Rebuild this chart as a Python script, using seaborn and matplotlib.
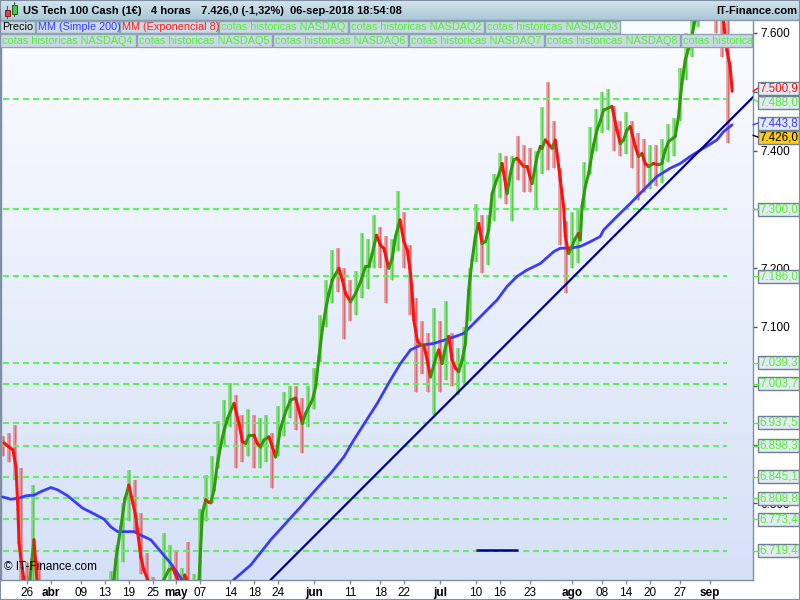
import numpy as np
import matplotlib
matplotlib.use("Agg")
import matplotlib.pyplot as plt
import seaborn as sns
from matplotlib.collections import LineCollection
from matplotlib.patches import Rectangle
from matplotlib.lines import Line2D
from matplotlib.colors import LinearSegmentedColormap

# ---------------- data (x = trading-day index, 0 = 26-mar-2018) ----------------
ema_day = [-3.78, -2.95, -2.28, -1.78, -1.45, -1.28, -0.78, -0.45, 0.0, 0.55,
           0.88, 1.22, 1.47, 1.72, 2.5, 4.0, 5.5, 7.0, 8.5, 10.0,
           11.5, 13.0, 14.0, 14.55, 14.88, 15.72, 16.38, 17.05, 17.72, 18.22,
           18.55, 19.05, 19.55, 20.22, 21.2, 22.2, 22.88, 23.72, 24.38, 24.72,
           25.22, 26.0, 26.38, 26.72, 27.6, 28.4, 28.77, 29.33, 29.88, 30.38,
           30.72, 31.27, 31.83, 32.67, 33.5, 34.6, 35.43, 36.0, 36.55, 37.1,
           37.93, 38.5, 39.05, 39.6, 40.43, 41.0, 41.55, 42.38, 43.22, 44.05,
           44.88, 45.72, 46.0, 46.55, 47.67, 48.22, 48.77, 49.33, 49.88, 50.43,
           51.0, 52.1, 52.67, 53.22, 54.05, 54.88, 55.72, 56.55, 57.1, 57.67,
           58.38, 59.05, 59.6, 60.43, 61.0, 61.55, 62.3, 62.93, 63.5, 64.05,
           64.33, 64.6, 65.17, 65.72, 66.27, 66.83, 67.38, 68.5, 68.77, 69.33,
           69.88, 70.43, 71.0, 71.55, 72.1, 72.67, 73.22, 73.77, 74.33, 74.88,
           75.43, 76.0, 76.55, 77.1, 77.67, 78.22, 79.05, 79.33, 80.17, 80.72,
           81.27, 81.83, 82.93, 83.5, 84.33, 85.17, 85.72, 86.0, 86.55, 87.67,
           88.22, 89.05, 89.6, 89.88, 90.43, 91.0, 91.55, 92.1, 92.38, 92.67,
           93.22, 93.77, 94.6, 95.17, 95.72, 96.27, 97.67, 98.5, 99.05, 99.6,
           100.17, 100.72, 101.55, 102.1, 102.67, 103.22, 103.77, 104.6, 105.43, 106.0,
           106.55, 107.1, 108.22, 108.77, 109.33, 109.88, 110.72, 111.55, 112.5, 113.5,
           114.5, 115.5, 116.27, 116.83, 117.38, 117.72]
ema_val = [6903, 6896, 6891, 6862, 6789, 6733, 6692, 6670, 6630, 6670,
           6704, 6738, 6704, 6670, 6580, 6400, 6480, 6560, 6500, 6580,
           6600, 6640, 6630, 6670, 6704, 6760, 6806, 6831, 6801, 6777,
           6750, 6709, 6687, 6670, 6640, 6630, 6670, 6687, 6690, 6682,
           6670, 6650, 6678, 6670, 6630, 6640, 6670, 6784, 6806, 6802,
           6801, 6823, 6868, 6913, 6944, 6970, 6936, 6905, 6902, 6916,
           6916, 6902, 6896, 6908, 6913, 6896, 6879, 6928, 6956, 6976,
           6979, 6947, 6936, 6953, 6976, 6998, 7049, 7095, 7129, 7157,
           7180, 7200, 7180, 7157, 7143, 7157, 7177, 7203, 7203, 7225,
           7256, 7239, 7234, 7200, 7217, 7254, 7282, 7246, 7231, 7191,
           7157, 7112, 7078, 7069, 7069, 7044, 7015, 7055, 7061, 7038,
           7066, 7084, 7044, 7030, 7024, 7044, 7072, 7163, 7214, 7254,
           7276, 7242, 7245, 7265, 7327, 7344, 7367, 7378, 7327, 7361,
           7384, 7387, 7373, 7373, 7344, 7390, 7407, 7404, 7418, 7404,
           7418, 7350, 7305, 7254, 7225, 7237, 7251, 7259, 7248, 7305,
           7339, 7361, 7410, 7435, 7450, 7469, 7475, 7435, 7412, 7418,
           7435, 7441, 7407, 7390, 7395, 7378, 7373, 7378, 7376, 7378,
           7401, 7415, 7424, 7458, 7514, 7554, 7582, 7622, 7655, 7680,
           7690, 7660, 7622, 7571, 7543, 7500.9]

sma_day = [-4.0, -2.62, -1.23, -0.12, 1.27, 2.38, 4.05, 5.17, 6.83, 9.33,
           11.27, 12.93, 14.05, 15.17, 17.93, 19.05, 20.72, 22.38, 24.05, 25.72,
           27.5, 30.0, 32.5, 34.55, 37.38, 40.72, 45.72, 48.22, 50.72, 52.93,
           54.6, 56.55, 58.5, 60.72, 62.38, 64.05, 65.72, 67.93, 70.72, 72.93,
           74.6, 76.83, 78.5, 80.17, 81.83, 83.5, 85.72, 87.93, 89.05, 90.72,
           92.38, 94.05, 95.72, 96.27, 98.5, 100.72, 102.93, 105.17, 107.38, 109.05,
           110.72, 112.93, 115.17, 116.27, 117.72]
sma_val = [6811, 6807, 6809, 6813, 6814, 6820, 6827, 6823, 6813, 6792,
           6782, 6773, 6760, 6752, 6752, 6746, 6738, 6718, 6698, 6673,
           6645, 6630, 6640, 6670, 6695, 6738, 6794, 6823, 6851, 6879,
           6908, 6939, 6970, 7010, 7038, 7061, 7069, 7072, 7081, 7089,
           7106, 7129, 7146, 7169, 7186, 7197, 7208, 7228, 7234, 7234,
           7237, 7245, 7254, 7265, 7288, 7310, 7333, 7356, 7370, 7378,
           7390, 7404, 7418, 7432, 7443.8]

candle_day = list(range(-4, 118))
candle_high = [6915, 6920, 6933, 6860,
               6700, 6831, 6700, 6600, 6520, 6560, 6600, 6620, 6600, 6620,
               6640, 6650, 6660, 6665, 6685, 6730, 6800, 6857, 6840, 6784,
               6716, 6675, 6660, 6750, 6730, 6720, 6690, 6734, 6680, 6790,
               6848, 6880, 6940, 6975, 7005, 6985, 6950, 6960, 6950, 6945,
               6950, 6920, 6965, 6990, 7000, 7000, 6980, 7000, 7030, 7120,
               7180, 7231, 7235, 7200, 7180, 7195, 7260, 7250, 7290, 7270,
               7255, 7250, 7332, 7295, 7240, 7150, 7110, 7090, 7132, 7110,
               7145, 7090, 7065, 7100, 7200, 7310, 7290, 7290, 7360, 7396,
               7390, 7390, 7425, 7410, 7405, 7400, 7474, 7517, 7450, 7370,
               7280, 7296, 7300, 7380, 7440, 7470, 7500, 7505, 7475, 7450,
               7465, 7450, 7430, 7420, 7410, 7410, 7420, 7445, 7455, 7540,
               7600, 7640, 7690, 7700, 7700, 7680, 7650, 7640]
candle_low = [6880, 6870, 6840, 6620,
              6600, 6640, 6520, 6450, 6350, 6420, 6480, 6500, 6470, 6480,
              6530, 6560, 6580, 6590, 6600, 6650, 6700, 6770, 6750, 6680,
              6630, 6600, 6580, 6620, 6640, 6640, 6610, 6630, 6580, 6620,
              6770, 6800, 6860, 6900, 6930, 6860, 6870, 6880, 6860, 6860,
              6870, 6826, 6880, 6915, 6945, 6925, 6886, 6930, 6960, 7040,
              7100, 7140, 7160, 7080, 7110, 7120, 7150, 7165, 7200, 7200,
              7140, 7180, 7230, 7200, 7120, 6990, 7020, 6990, 6950, 6990,
              7010, 7000, 6985, 7005, 7110, 7210, 7192, 7205, 7280, 7320,
              7310, 7280, 7350, 7330, 7330, 7300, 7360, 7367, 7370, 7240,
              7158, 7200, 7209, 7300, 7360, 7400, 7430, 7435, 7400, 7390,
              7395, 7370, 7316, 7330, 7335, 7340, 7345, 7380, 7390, 7450,
              7520, 7560, 7610, 7640, 7640, 7600, 7560, 7413]

last_price = 7426.0
levels = [7488.0, 7300.0, 7186.0, 7039.3, 7003.7, 6937.5, 6898.3, 6845.1, 6808.8, 6773.4, 6719.4]
trend_day = [40.72, 121.22]
trend_val = [6670, 7491]
hseg_day = [75.05, 82.05]
hseg_val = 6720

# axis ticks (labels hidden behind value boxes in the original are left out)
y_ticks = [6800, 6900, 7000, 7100, 7200, 7300, 7400, 7500, 7600]
y_tick_shown = [6800, 7100, 7200, 7400, 7600]
tick_dates = ['2018-03-26', '2018-04-02', '2018-04-09', '2018-04-13', '2018-04-19',
              '2018-04-25', '2018-05-01', '2018-05-07', '2018-05-14', '2018-05-18',
              '2018-05-24', '2018-06-01', '2018-06-11', '2018-06-18', '2018-06-22',
              '2018-07-02', '2018-07-10', '2018-07-16', '2018-07-23', '2018-08-01',
              '2018-08-08', '2018-08-14', '2018-08-20', '2018-08-27', '2018-09-03']
tick_labels = ['26', 'abr', '09', '13', '19', '25', 'may', '07', '14', '18', '24',
               'jun', '11', '18', '22', 'jul', '10', '16', '23', 'ago', '08', '14',
               '20', '27', 'sep']
month_labels = {'abr', 'may', 'jun', 'jul', 'ago', 'sep'}
holidays = ['2018-03-30']

header_parts = ['US Tech 100 Cash (1€)', '4 horas', '7.426,0 (-1,32%)', '06-sep-2018 18:54:08']
legend_row1 = [('Precio', 'black'), ('MM (Simple 200)', '#3b3bff'), ('MM (Exponencial 8)', '#ff2020'),
               ('cotas historicas NASDAQ', 'g'), ('cotas historicas NASDAQ2', 'g'),
               ('cotas historicas NASDAQ3', 'g')]
# the last legend entry is cut by the plot edge in the original
legend_row2 = [('cotas historicas NASDAQ4', 'g'), ('cotas historicas NASDAQ5', 'g'),
               ('cotas historicas NASDAQ6', 'g'), ('cotas historicas NASDAQ7', 'g'),
               ('cotas historicas NASDAQ8', 'g'), ('cotas historica', 'g')]

# ---------------- style ----------------
sns.set_theme(style="ticks")
plt.rcParams['font.family'] = ['Liberation Sans', 'DejaVu Sans']
HEAD_FS = 8.0
LEG_FS = 7.8

W, H = 800, 600
GREEN_TXT = '#55ee33'
FRAME = '#7d8fa0'


def fx(px):
    return px / W


def fy(py):
    return 1 - py / H


def fmt_int(v):
    return f"{v:,.0f}".replace(',', '.')


def fmt_dec(v):
    s = f"{v:,.1f}"
    return s.replace(',', '#').replace('.', ',').replace('#', '.')


fig = plt.figure(figsize=(8, 6), dpi=100, facecolor='white')
ax = fig.add_axes([fx(1), 1 - 580 / H, fx(752), 560 / H])
x_lim = (-4.28, 121.2)
y_lim = (6669.7, 7622.1)

# background gradient
grad = np.linspace(0, 1, 256).reshape(-1, 1)
bg_cmap = LinearSegmentedColormap.from_list('bg', ['#d5e1f7', '#fbfcff'])
ax.imshow(grad, extent=[x_lim[0], x_lim[1], y_lim[0], y_lim[1]], origin='lower',
          aspect='auto', cmap=bg_cmap, zorder=0, interpolation='bilinear')

# candles
cd = np.array(candle_day, dtype=float)
ema_at = lambda t: np.interp(t, ema_day, ema_val)
up = ema_at(cd + 0.5) >= ema_at(cd - 0.5)
c_colors = np.where(up, '#4fcf3c', '#e06565')
ax.vlines(cd, candle_low, candle_high, colors=c_colors, lw=2.8, alpha=0.55, zorder=1.5)
ax.vlines(cd, candle_low, candle_high, colors=c_colors, lw=0.9, alpha=0.9, zorder=1.6)

# support / resistance levels
ax.hlines(levels, xmin=-4.0, xmax=116.9, colors='#5ef05e', lw=1.5,
          linestyles=(0, (2.9, 1.9)), zorder=2)

# SMA 200 and trend line
sns.lineplot(x=sma_day, y=sma_val, ax=ax, color='#3c3cf8', lw=2.0, zorder=3,
             sort=False, estimator=None)
sns.lineplot(x=trend_day, y=trend_val, ax=ax, color='#000088', lw=1.6, zorder=3.5,
             sort=False, estimator=None)
ax.hlines(hseg_val, hseg_day[0], hseg_day[1], color='#000088', lw=1.8, zorder=3.5)

# EMA 8, coloured by direction
pts = np.column_stack([ema_day, ema_val])
segs = np.stack([pts[:-1], pts[1:]], axis=1)
seg_col = ['#2f9a0c' if b >= a else '#ff1010' for a, b in zip(ema_val[:-1], ema_val[1:])]
ax.add_collection(LineCollection(segs, colors=seg_col, linewidths=2.2,
                                 capstyle='round', joinstyle='round', zorder=4))

ax.set_xlim(*x_lim)
ax.set_ylim(*y_lim)
ax.set_xlabel('')
ax.set_ylabel('')
if ax.get_legend():
    ax.get_legend().remove()

# axes
ax.spines['top'].set_visible(False)
for s in ['left', 'right', 'bottom']:
    ax.spines[s].set_color(FRAME)
    ax.spines[s].set_linewidth(1)
ax.yaxis.tick_right()
ax.set_yticks(y_ticks)
ax.set_yticklabels([fmt_int(v) if v in y_tick_shown else '' for v in y_ticks])
ax.tick_params(axis='y', which='both', left=False, right=True, length=3, width=1,
               color='#445566', labelsize=8.5, pad=2, labelcolor='black')
tick_days = np.busday_count('2018-03-26', tick_dates, holidays=holidays)
ax.set_xticks(tick_days)
ax.set_xticklabels(tick_labels)
ax.tick_params(axis='x', which='both', bottom=True, length=3, width=1, color=FRAME,
               labelsize=8.5, pad=2, labelcolor='black')
for lab in ax.get_xticklabels():
    if lab.get_text() in month_labels:
        lab.set_fontweight('bold')

ax.text(0.004, 0.012, '© IT-Finance.com', transform=ax.transAxes, fontsize=8.5,
        color='black', ha='left', va='bottom', zorder=6)

# value boxes on the right axis (pushed apart where they would collide)
boxes = [(lv, GREEN_TXT, '#e3ebf2') for lv in levels]
boxes += [(ema_val[-1], '#ff1010', '#e3ebf2'),
          (sma_val[-1], '#3b3bff', '#e3ebf2'),
          (last_price, 'black', '#ffcc11')]
boxes.sort(key=lambda b: b[0])
true_y = [ax.transData.transform((0, b[0]))[1] for b in boxes]
pos_y = list(true_y)
GAP = 14.0
for _ in range(50):
    moved = False
    for i in range(len(pos_y) - 1):
        d = pos_y[i + 1] - pos_y[i]
        if d < GAP:
            shift = (GAP - d) / 2
            pos_y[i] -= shift
            pos_y[i + 1] += shift
            moved = True
    if not moved:
        break

for (val, tcol, face), ty, py in zip(boxes, true_y, pos_y):
    fig.add_artist(Rectangle((fx(758), (py - 6.5) / H), 41 / W, 13 / H,
                             transform=fig.transFigure, fc=face, ec='#6e8091',
                             lw=1, zorder=10))
    fig.text(fx(778.5), py / H, fmt_dec(val), color=tcol, ha='center', va='center',
             fontsize=8.4, zorder=11)
    fig.add_artist(Line2D([fx(753), fx(758)], [ty / H, py / H], color=tcol,
                          lw=1, transform=fig.transFigure, zorder=10))

# header bar
hdr_cmap = LinearSegmentedColormap.from_list('hdr', ['#a9c8d6', '#d3e5ee'])
hax = fig.add_axes([0, fy(20), 1, 20 / H], zorder=8)
hax.imshow(np.linspace(0, 1, 64).reshape(-1, 1), origin='lower', aspect='auto',
           cmap=hdr_cmap, extent=[0, 1, 0, 1])
hax.set_axis_off()
fig.add_artist(Line2D([0, 1], [fy(20), fy(20)], color='#8599aa', lw=1,
                      transform=fig.transFigure, zorder=9))
# candlestick icon
fig.add_artist(Line2D([fx(7), fx(7)], [fy(6), fy(18)], color='#555555', lw=0.8,
                      transform=fig.transFigure, zorder=9))
fig.add_artist(Rectangle((fx(4.5), fy(16)), 5 / W, 6 / H, transform=fig.transFigure,
                         fc='#e04545', ec='#802020', lw=0.7, zorder=10))
fig.add_artist(Line2D([fx(14), fx(14)], [fy(2), fy(16)], color='#555555', lw=0.8,
                      transform=fig.transFigure, zorder=9))
fig.add_artist(Rectangle((fx(11.5), fy(14)), 5 / W, 9 / H, transform=fig.transFigure,
                         fc='#45c845', ec='#206020', lw=0.7, zorder=10))
for txt, xp in zip(header_parts, [23, 151, 201, 290]):
    fig.text(fx(xp), fy(10.5), txt, fontsize=HEAD_FS, fontweight='bold', color='black',
             ha='left', va='center', zorder=11)
fig.text(fx(797), fy(10.5), 'IT-Finance.com', fontsize=HEAD_FS, fontweight='bold',
         color='black', ha='right', va='center', zorder=11)

# legend rows
def legend_row(items, edges, ytop, h):
    for (txt, col), (x0, x1) in zip(items, edges):
        rect = Rectangle((fx(x0), fy(ytop + h)), (x1 - x0) / W, h / H,
                         transform=fig.transFigure, fc='#c9dae4', ec='#8ea3b3',
                         lw=1, zorder=10)
        fig.add_artist(rect)
        fig.text(fx(x0 + 2), fy(ytop + h / 2 + 0.5), txt,
                 color=GREEN_TXT if col == 'g' else col, fontsize=LEG_FS,
                 ha='left', va='center', zorder=11)


legend_row(legend_row1, [(0, 35), (36, 119), (120, 218), (219, 348), (349, 484), (485, 620)],
           21, 12)
legend_row(legend_row2, [(0, 136), (137, 272), (273, 408), (409, 544), (545, 680), (681, 752)],
           34, 13)

# outer frame
fig.add_artist(Rectangle((0, 0), 1, 1, transform=fig.transFigure, fill=False,
                         ec=FRAME, lw=1.5, zorder=20))

fig.savefig('out.png', dpi=100, facecolor='white')
